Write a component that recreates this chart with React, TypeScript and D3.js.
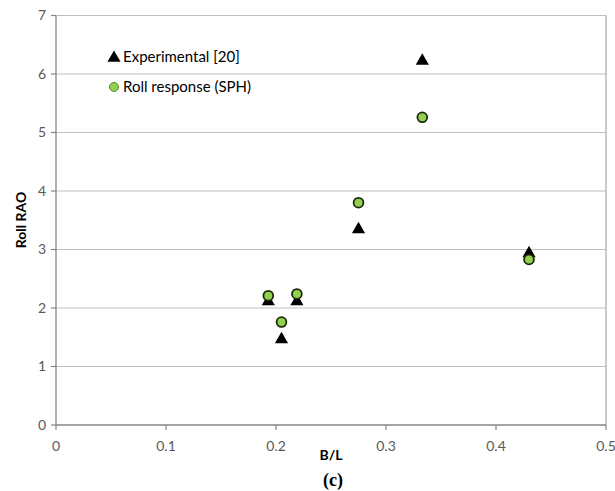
import React from "react";
import * as d3 from "d3";

const bL = [0.193, 0.205, 0.219, 0.275, 0.333, 0.43];
const experimental = [2.13, 1.48, 2.13, 3.36, 6.24, 2.95];
const sph = [2.21, 1.76, 2.24, 3.8, 5.26, 2.83];
const xTicks = [0, 0.1, 0.2, 0.3, 0.4, 0.5];
const yTicks = [0, 1, 2, 3, 4, 5, 6, 7];
const legendLabels = ["Experimental [20]", "Roll response (SPH)"];

const W = 615;
const H = 491;
const left = 56;
const right = 606;
const top = 15.5;
const bottom = 425;

export default function App() {
  const x = d3.scaleLinear().domain([0, 0.5]).range([left, right]);
  const y = d3.scaleLinear().domain([0, 7]).range([bottom, top]);
  const tri = d3.symbol().type(d3.symbolTriangle).size(75)();
  const font = "Lato, 'Open Sans', sans-serif";
  return (
    <svg width={W} height={H} style={{ position: "absolute", left: 0, top: 0, background: "#fff" }}>
      <rect x={0} y={0} width={W} height={H} fill="#fff" />
      {yTicks.slice(1).map((t) => (
        <line key={"g" + t} x1={left} x2={right} y1={y(t)} y2={y(t)} stroke="#bfbfbf" strokeWidth={1.2} />
      ))}
      <line x1={right} x2={right} y1={top} y2={bottom} stroke="#a6a6a6" strokeWidth={1.2} />
      <line x1={left} x2={left} y1={top} y2={bottom} stroke="#868686" strokeWidth={1.3} />
      <line x1={left} x2={right} y1={bottom} y2={bottom} stroke="#868686" strokeWidth={1.3} />
      {yTicks.map((t) => (
        <g key={"y" + t}>
          <line x1={left - 5} x2={left} y1={y(t)} y2={y(t)} stroke="#868686" strokeWidth={1.2} />
          <text x={left - 10} y={y(t)} dy="0.35em" textAnchor="end" fontSize={14} fill="#595959" fontFamily={font}>
            {t}
          </text>
        </g>
      ))}
      {xTicks.map((t) => (
        <g key={"x" + t}>
          <line x1={x(t)} x2={x(t)} y1={bottom} y2={bottom + 5} stroke="#868686" strokeWidth={1.2} />
          <text x={x(t)} y={446} dy="0.35em" textAnchor="middle" fontSize={14} fill="#595959" fontFamily={font}>
            {t}
          </text>
        </g>
      ))}
      <text
        transform={`translate(21,${220}) rotate(-90)`}
        dy="0.35em"
        textAnchor="middle"
        fontSize={14}
        fontWeight="bold"
        fill="#000"
        fontFamily={font}
      >
        Roll RAO
      </text>
      <text x={331} y={455} dy="0.35em" textAnchor="middle" fontSize={14} fontWeight="bold" fill="#000" fontFamily={font}>
        B/L
      </text>
      <text x={333} y={480} dy="0.35em" textAnchor="middle" fontSize={18} fontWeight="bold" fill="#000" style={{ fontFamily: "Liberation Serif, DejaVu Serif, serif" }}>
        (c)
      </text>
      {bL.map((v, i) => (
        <path key={"t" + i} d={tri!} transform={`translate(${x(v)},${y(experimental[i]) + 1})`} fill="#000" />
      ))}
      {bL.map((v, i) => (
        <circle key={"c" + i} cx={x(v)} cy={y(sph[i])} r={4.9} fill="#92d050" stroke="#1a2a0a" strokeWidth={1.8} />
      ))}
      <path d={tri!} transform="translate(114,58)" fill="#000" />
      <text x={123} y={57} dy="0.35em" fontSize={15} fill="#000" fontFamily={font}>
        {legendLabels[0]}
      </text>
      <circle cx={114} cy={87} r={4.5} fill="#92d050" stroke="#5a8a2a" strokeWidth={1} />
      <text x={123} y={87} dy="0.35em" fontSize={15} fill="#000" fontFamily={font}>
        {legendLabels[1]}
      </text>
    </svg>
  );
}
